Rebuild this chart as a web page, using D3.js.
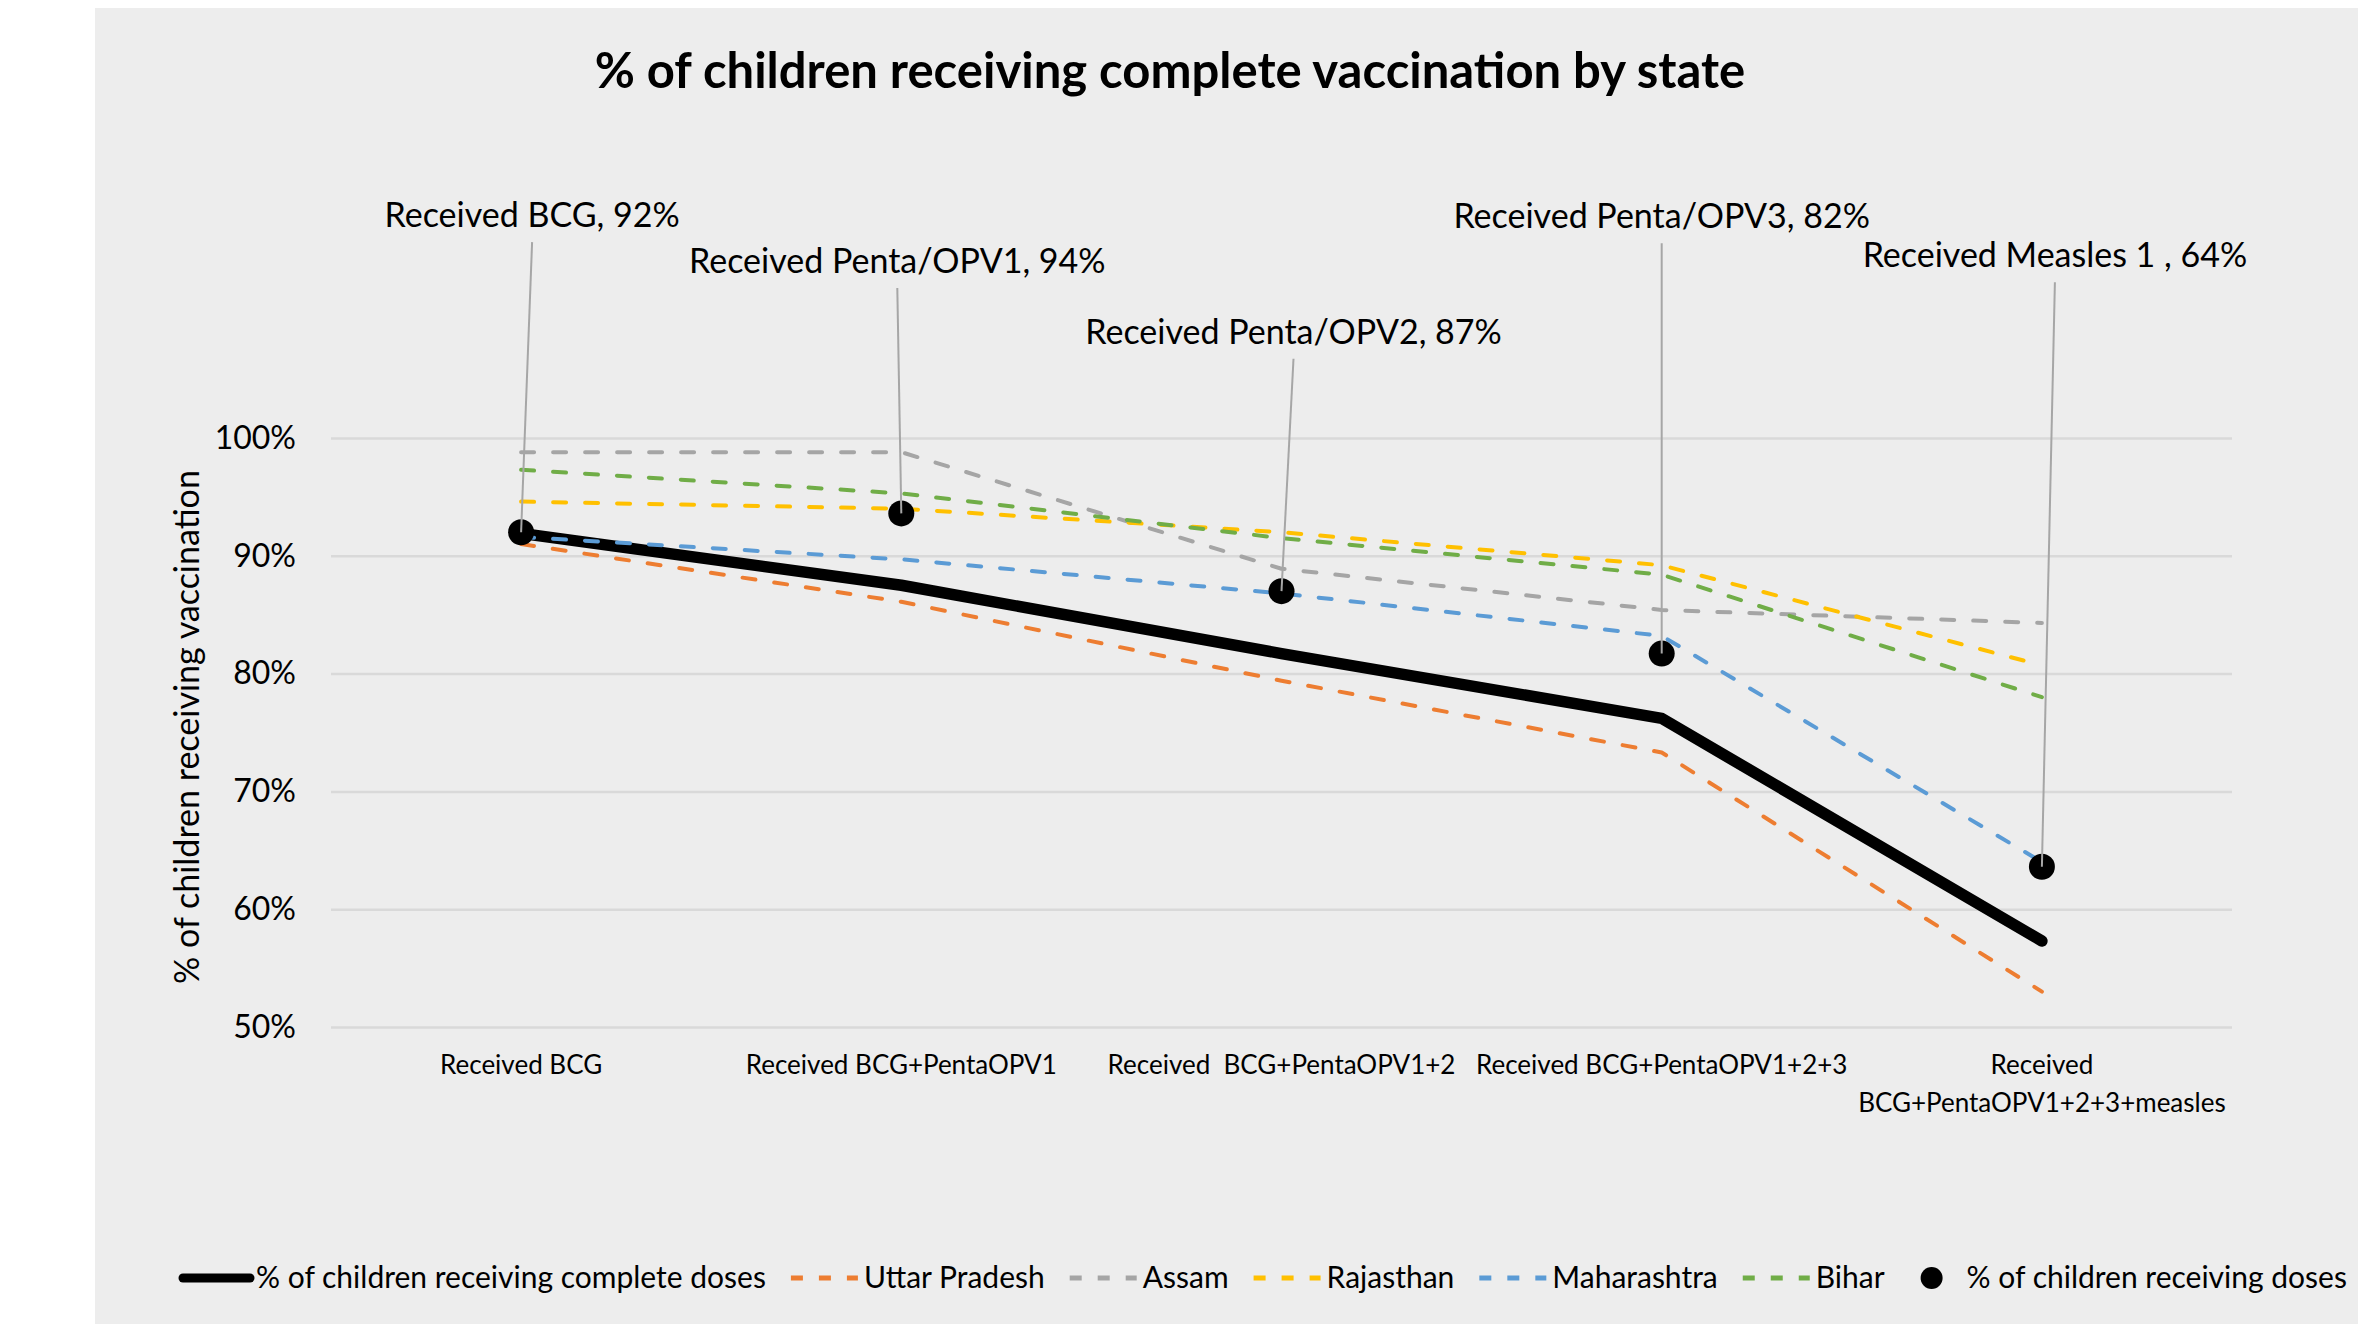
<!DOCTYPE html>
<html>
<head>
<meta charset="utf-8">
<script src="https://cdn.jsdelivr.net/npm/d3@7"></script>
<style>
  body { margin: 0; background: #fff; }
  text { font-family: Lato, "Open Sans", sans-serif; fill: #000; }
</style>
</head>
<body>
<script>
// categories (x axis), one entry per label line
const categories = [
  ["Received BCG"],
  ["Received BCG+PentaOPV1"],
  ["Received  BCG+PentaOPV1+2"],
  ["Received BCG+PentaOPV1+2+3"],
  ["Received", "BCG+PentaOPV1+2+3+measles"]
];

// series values, % of children
const completeDoses = [91.9, 87.5, 81.7, 76.2, 57.3];
const uttarPradesh = [91.0, 86.1, 79.4, 73.3, 53.0];
const assam = [98.8, 98.8, 88.9, 85.4, 84.3];
const rajasthan = [94.6, 94.0, 92.0, 89.2, 80.7];
const maharashtra = [91.6, 89.7, 86.8, 83.2, 64.0];
const bihar = [97.3, 95.3, 91.5, 88.4, 78.0];
const receivingDoses = [92.0, 93.6, 87.0, 81.7, 63.6];

const doseNames = ["Received BCG", "Received Penta/OPV1", "Received Penta/OPV2", "Received Penta/OPV3", "Received Measles 1 "];
const yTicks = [50, 60, 70, 80, 90, 100];

const W = 2358, H = 1324;
const LEFT = 331, RIGHT = 2232;

const svg = d3.select('body').append('svg')
  .attr('width', W)
  .attr('height', H);

svg.append('rect')
  .attr('x', 95).attr('y', 8)
  .attr('width', W - 95).attr('height', H - 8)
  .attr('fill', '#ededed');

const x = d3.scalePoint()
  .domain(d3.range(categories.length))
  .range([LEFT, RIGHT])
  .padding(0.5);

const y = d3.scaleLinear()
  .domain([50, 100])
  .range([1027, 438]);

// title
svg.append('text')
  .attr('x', 1170).attr('y', 88)
  .attr('text-anchor', 'middle')
  .style('font-size', '49px')
  .style('font-weight', 'bold')
  .text('% of children receiving complete vaccination by state');

// y axis + gridlines
const yAxis = svg.append('g')
  .attr('transform', `translate(${LEFT},0)`)
  .call(d3.axisLeft(y)
    .tickValues(yTicks)
    .tickSize(-(RIGHT - LEFT))
    .tickPadding(35)
    .tickFormat(d => d + '%'));
yAxis.select('.domain').remove();
yAxis.selectAll('line').attr('stroke', '#d9d9d9').attr('stroke-width', 2.5);
yAxis.selectAll('text')
  .style('font-size', '32px')
  .style('font-family', 'Lato, "Open Sans", sans-serif')
  .attr('fill', '#000');

svg.append('text')
  .attr('transform', 'translate(199,727) rotate(-90)')
  .attr('text-anchor', 'middle')
  .style('font-size', '34px')
  .text('% of children receiving vaccination');

// x labels
const xLabels = svg.append('g');
categories.forEach((lines, i) => {
  const t = xLabels.append('text')
    .attr('text-anchor', 'middle')
    .style('font-size', '26px')
    .style('white-space', 'pre');
  lines.forEach((ln, j) => {
    t.append('tspan')
      .attr('x', x(i))
      .attr('y', 1074 + j * 38)
      .text(ln);
  });
});

const line = d3.line()
  .x((d, i) => x(i))
  .y(d => y(d));

// draw order as in the original
const series = [
  { name: '% of children receiving complete doses', values: completeDoses, color: '#000', width: 11.5, dash: null },
  { name: 'Uttar Pradesh', values: uttarPradesh, color: '#ed7d31', width: 4, dash: '13,19' },
  { name: 'Assam', values: assam, color: '#a5a5a5', width: 4, dash: '13,19' },
  { name: 'Rajasthan', values: rajasthan, color: '#ffc000', width: 4, dash: '13,19' },
  { name: 'Maharashtra', values: maharashtra, color: '#5b9bd5', width: 4, dash: '13,19' },
  { name: 'Bihar', values: bihar, color: '#70ad47', width: 4, dash: '13,19' }
];

series.forEach(s => {
  svg.append('path')
    .datum(s.values)
    .attr('d', line)
    .attr('fill', 'none')
    .attr('stroke', s.color)
    .attr('stroke-width', s.width)
    .attr('stroke-linecap', 'round')
    .attr('stroke-linejoin', 'round')
    .attr('stroke-dasharray', s.dash);
});

// callouts: label offset (px) and label baseline (in y units)
const calloutDx = [11, -4, 12, 0, 13];
const calloutY = [117.9, 114.0, 108.0, 117.8, 114.5];

const callouts = svg.append('g');
receivingDoses.forEach((v, i) => {
  const cx = x(i) + calloutDx[i];
  const by = y(calloutY[i]);
  callouts.append('line')
    .attr('x1', cx).attr('y1', by + 15)
    .attr('x2', x(i)).attr('y2', y(v))
    .attr('stroke', '#a6a6a6')
    .attr('stroke-width', 2);
  callouts.append('text')
    .attr('x', cx).attr('y', by)
    .attr('text-anchor', 'middle')
    .style('font-size', '34px')
    .text(`${doseNames[i]}, ${Math.round(v)}%`);
});

svg.append('g').selectAll('circle')
  .data(receivingDoses)
  .join('circle')
  .attr('cx', (d, i) => x(i))
  .attr('cy', d => y(d))
  .attr('r', 13)
  .attr('fill', '#000');

// leader tips sit on top of the markers in the original
callouts.raise();

// legend
const legend = svg.append('g').attr('transform', 'translate(180,1278)');
let lx = 0;
const legendItems = series.map(s => ({ ...s, type: 'line' }))
  .concat([{ name: '% of children receiving doses', type: 'dot', color: '#000' }]);

legendItems.forEach(it => {
  if (it.type === 'line') {
    legend.append('line')
      .attr('x1', lx + 3).attr('x2', lx + 70)
      .attr('y1', 0).attr('y2', 0)
      .attr('stroke', it.color)
      .attr('stroke-width', it.dash ? 5 : 9)
      .attr('stroke-linecap', it.dash ? 'butt' : 'round')
      .attr('stroke-dasharray', it.dash ? '12,16' : null);
    lx += 76;
  } else {
    lx += 14;
    legend.append('circle')
      .attr('cx', lx + 11).attr('cy', 0).attr('r', 11)
      .attr('fill', it.color);
    lx += 46;
  }
  const t = legend.append('text')
    .attr('x', lx).attr('y', 10)
    .style('font-size', '30px')
    .text(it.name);
  lx += t.node().getComputedTextLength() + 22;
});
</script>
</body>
</html>
